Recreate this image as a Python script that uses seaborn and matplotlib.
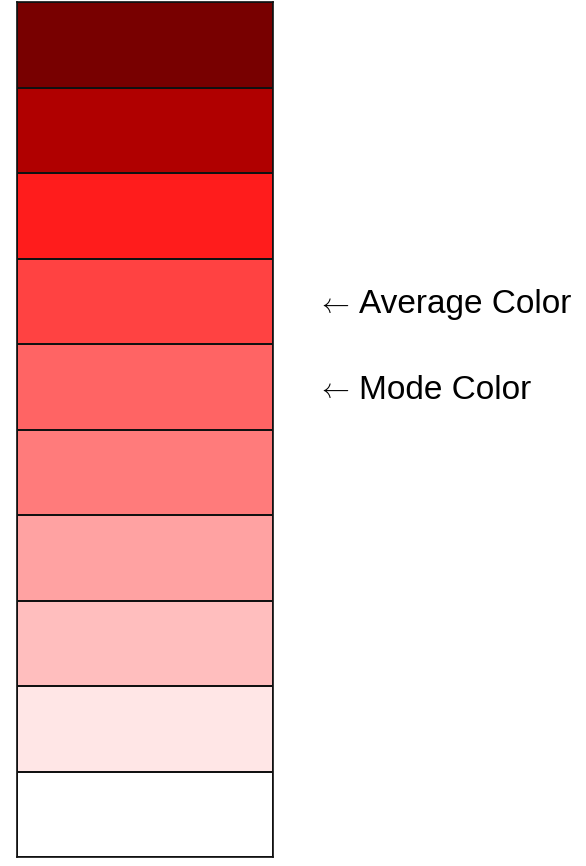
import numpy as np
import matplotlib
import matplotlib.pyplot as plt
import seaborn as sns
from matplotlib.colors import ListedColormap

matplotlib.use('Agg')

# Swatch colours, darkest at the top
swatch_colors = ['#780000', '#B00000', '#FF1C1C', '#FF4242', '#FF6464',
                 '#FF7B7B', '#FFA2A2', '#FFBEBE', '#FFE6E6', '#FFFFFF']
swatch_index = list(range(len(swatch_colors)))

# Labels pointing at swatches
label_rows = [3, 4]
label_texts = ['Average Color', 'Mode Color']

sns.set_style('white')
plt.rcParams['font.family'] = ['Liberation Sans', 'DejaVu Sans']
plt.rcParams['mathtext.fontset'] = 'cm'

fig = plt.figure(figsize=(5.86, 8.66), dpi=100)
ax = fig.add_axes([17 / 586, 1 - 857 / 866, 256 / 586, 855 / 866])

grid = np.array(swatch_index).reshape(-1, 1)
sns.heatmap(grid, cmap=ListedColormap(swatch_colors), vmin=-0.5, vmax=len(swatch_colors) - 0.5,
            cbar=False, linewidths=1.2, linecolor='#111111', xticklabels=False, yticklabels=False, ax=ax)

for spine in ax.spines.values():
    spine.set_visible(True)
    spine.set_color('#111111')
    spine.set_linewidth(1.2)

# Annotations to the right of the column
for row, text in zip(label_rows, label_texts):
    ax.text(1.17, row + 0.54, r'$\leftarrow$', fontsize=20, va='center', ha='left',
            color='black', clip_on=False)
    ax.text(1.335, row + 0.54, text, fontsize=24, va='center', ha='left',
            color='black', clip_on=False)

fig.savefig('out.png', dpi=100)
